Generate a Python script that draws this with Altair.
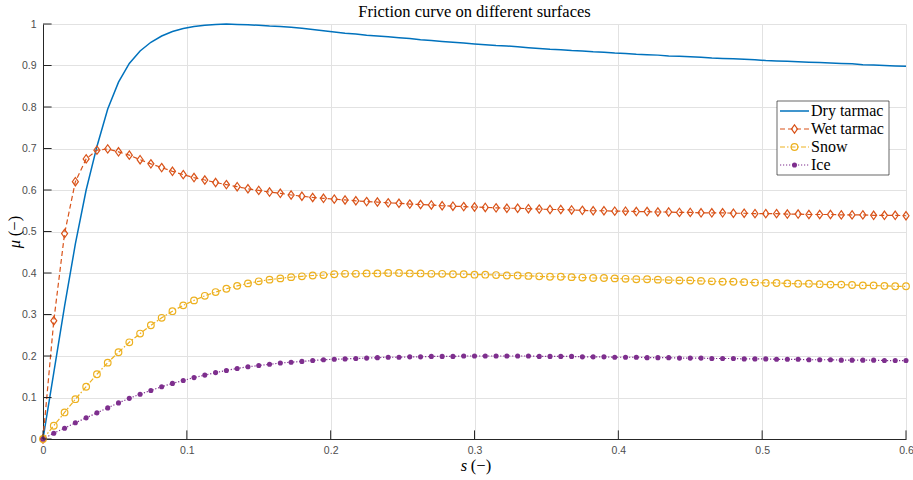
import altair as alt
import pandas as pd

# ---------------- data ----------------
s_vals = [0.0, 0.0075, 0.015, 0.0225, 0.03, 0.0375, 0.045, 0.0525, 0.06, 0.0675,
          0.075, 0.0825, 0.09, 0.0975, 0.105, 0.1125, 0.12, 0.1275, 0.135, 0.1425,
          0.15, 0.1575, 0.165, 0.1725, 0.18, 0.1875, 0.195, 0.2025, 0.21, 0.2175,
          0.225, 0.2325, 0.24, 0.2475, 0.255, 0.2625, 0.27, 0.2775, 0.285, 0.2925,
          0.3, 0.3075, 0.315, 0.3225, 0.33, 0.3375, 0.345, 0.3525, 0.36, 0.3675,
          0.375, 0.3825, 0.39, 0.3975, 0.405, 0.4125, 0.42, 0.4275, 0.435, 0.4425,
          0.45, 0.4575, 0.465, 0.4725, 0.48, 0.4875, 0.495, 0.5025, 0.51, 0.5175,
          0.525, 0.5325, 0.54, 0.5475, 0.555, 0.5625, 0.57, 0.5775, 0.585, 0.5925,
          0.6]

dry = [0.0, 0.16, 0.32, 0.47, 0.60, 0.705, 0.795, 0.86, 0.905, 0.935,
       0.956, 0.971, 0.982, 0.989, 0.994, 0.997, 0.999, 1.0, 0.999, 0.998,
       0.997, 0.995, 0.994, 0.992, 0.990, 0.987, 0.984, 0.981, 0.978, 0.976,
       0.973, 0.971, 0.969, 0.967, 0.965, 0.962, 0.960, 0.958, 0.956, 0.954,
       0.952, 0.950, 0.948, 0.947, 0.945, 0.943, 0.941, 0.939, 0.938, 0.936,
       0.935, 0.933, 0.932, 0.930, 0.929, 0.927, 0.926, 0.925, 0.923, 0.922,
       0.921, 0.920, 0.918, 0.917, 0.916, 0.915, 0.914, 0.912, 0.911, 0.910,
       0.909, 0.908, 0.907, 0.906, 0.905, 0.904, 0.902, 0.901, 0.900, 0.899,
       0.898]

wet = [0.0, 0.285, 0.495, 0.620, 0.675, 0.696, 0.699, 0.692, 0.684, 0.673,
       0.663, 0.654, 0.645, 0.637, 0.630, 0.624, 0.618, 0.613, 0.608, 0.603,
       0.599, 0.595, 0.592, 0.588, 0.585, 0.582, 0.580, 0.578, 0.576, 0.574,
       0.572, 0.571, 0.569, 0.568, 0.566, 0.565, 0.564, 0.562, 0.561, 0.560,
       0.559, 0.558, 0.557, 0.556, 0.556, 0.555, 0.554, 0.553, 0.553, 0.552,
       0.551, 0.550, 0.550, 0.549, 0.549, 0.548, 0.548, 0.547, 0.547, 0.546,
       0.546, 0.545, 0.545, 0.545, 0.544, 0.544, 0.543, 0.543, 0.543, 0.542,
       0.542, 0.541, 0.541, 0.541, 0.540, 0.540, 0.540, 0.539, 0.539, 0.539,
       0.538]

snow = [0.0, 0.032, 0.064, 0.096, 0.126, 0.156, 0.184, 0.209, 0.233, 0.254,
        0.274, 0.292, 0.308, 0.322, 0.334, 0.345, 0.354, 0.362, 0.369, 0.375,
        0.380, 0.384, 0.387, 0.390, 0.392, 0.394, 0.395, 0.397, 0.398, 0.398,
        0.399, 0.399, 0.400, 0.400, 0.399, 0.399, 0.398, 0.398, 0.397, 0.397,
        0.396, 0.396, 0.395, 0.394, 0.394, 0.393, 0.392, 0.391, 0.391, 0.390,
        0.389, 0.388, 0.388, 0.387, 0.386, 0.385, 0.385, 0.384, 0.383, 0.382,
        0.382, 0.381, 0.380, 0.379, 0.379, 0.378, 0.377, 0.376, 0.376, 0.375,
        0.374, 0.374, 0.373, 0.372, 0.372, 0.371, 0.370, 0.370, 0.369, 0.368,
        0.368]

ice = [0.0, 0.014, 0.026, 0.039, 0.051, 0.063, 0.075, 0.087, 0.098, 0.108,
       0.117, 0.126, 0.134, 0.141, 0.148, 0.154, 0.160, 0.165, 0.170, 0.174,
       0.177, 0.180, 0.183, 0.185, 0.187, 0.189, 0.191, 0.192, 0.193, 0.194,
       0.195, 0.196, 0.197, 0.197, 0.198, 0.198, 0.199, 0.199, 0.199, 0.200,
       0.200, 0.200, 0.200, 0.200, 0.200, 0.200, 0.199, 0.199, 0.199, 0.199,
       0.198, 0.198, 0.198, 0.197, 0.197, 0.197, 0.196, 0.196, 0.196, 0.195,
       0.195, 0.195, 0.194, 0.194, 0.194, 0.193, 0.193, 0.193, 0.192, 0.192,
       0.192, 0.191, 0.191, 0.191, 0.190, 0.190, 0.190, 0.190, 0.189, 0.189,
       0.189]

series_names = ["Dry tarmac", "Wet tarmac", "Snow", "Ice"]
colors = ["#0072BD", "#D95319", "#EDB120", "#7E2F8E"]
x_ticks = [0, 0.1, 0.2, 0.3, 0.4, 0.5, 0.6]
y_ticks = [0, 0.1, 0.2, 0.3, 0.4, 0.5, 0.6, 0.7, 0.8, 0.9, 1]
title_text = "Friction curve on different surfaces"

# ---------------- layout ----------------
W, H = 863, 415
TICK = 8.6
SERIF = "Liberation Serif"

xs = alt.Scale(domain=[0, 0.6], nice=False, zero=False)
ys = alt.Scale(domain=[0, 1], nice=False, zero=False)
x_axis = alt.Axis(values=x_ticks, format="~g", title=None, grid=True,
                  ticks=False, tickSize=0, labelPadding=6, labelFlush=False)
y_axis = alt.Axis(values=y_ticks, format="~g", title=None, grid=True,
                  ticks=False, tickSize=0, labelPadding=7, labelFlush=False)
X = alt.X("s:Q", scale=xs, axis=x_axis)
Y = alt.Y("mu:Q", scale=ys, axis=y_axis)


def frame(vals):
    return pd.DataFrame({"s": s_vals, "mu": vals})


one = pd.DataFrame({"k": [0]})

dash = {"Dry tarmac": [1, 0], "Wet tarmac": [5, 3], "Snow": [5, 2, 1.5, 2], "Ice": [1.2, 1.8]}
DIAMOND = "M0,-1L0.72,0L0,1L-0.72,0Z"

layers = []
# lines
for name, vals, col in zip(series_names, [dry, wet, snow, ice], colors):
    kw = dict(color=col, strokeWidth=1.5 if name == "Dry tarmac" else 1.2)
    if name != "Dry tarmac":
        kw["strokeDash"] = dash[name]
    layers.append(alt.Chart(frame(vals)).mark_line(**kw).encode(x=X, y=Y))

# markers
layers.append(alt.Chart(frame(wet)).mark_point(shape=DIAMOND, size=70, filled=False,
              color=colors[1], strokeWidth=1.2, opacity=1).encode(x=X, y=Y))
layers.append(alt.Chart(frame(snow)).mark_point(shape="circle", size=44, filled=False,
              color=colors[2], strokeWidth=1.2, opacity=1).encode(x=X, y=Y))
layers.append(alt.Chart(frame(ice)).mark_point(shape="circle", size=26, filled=True,
              color=colors[3], opacity=1).encode(x=X, y=Y))

# inward ticks
layers.append(alt.Chart(pd.DataFrame({"mu": y_ticks})).mark_rule(color="#262626", strokeWidth=1)
              .encode(y=Y, x=alt.value(0), x2=alt.value(TICK)))
layers.append(alt.Chart(pd.DataFrame({"s": x_ticks})).mark_rule(color="#262626", strokeWidth=1)
              .encode(x=X, y=alt.value(H), y2=alt.value(H - TICK)))

# title and axis titles
layers.append(alt.Chart(one).mark_text(text=title_text, font=SERIF, fontSize=16.5,
              color="#000000", align="center", baseline="middle")
              .encode(x=alt.value(W / 2), y=alt.value(-12)))
layers.append(alt.Chart(one).mark_text(text="s", font=SERIF, fontSize=16.5, fontStyle="italic",
              color="#000000", align="center", baseline="middle")
              .encode(x=alt.value(421), y=alt.value(442)))
layers.append(alt.Chart(one).mark_text(text="(−)", font=SERIF, fontSize=16.5,
              color="#000000", align="center", baseline="middle")
              .encode(x=alt.value(438), y=alt.value(442)))
layers.append(alt.Chart(one).mark_text(text="μ", font=SERIF, fontSize=16.5, fontStyle="italic",
              color="#000000", align="center", baseline="middle", angle=270)
              .encode(x=alt.value(-28), y=alt.value(220)))
layers.append(alt.Chart(one).mark_text(text="(−)", font=SERIF, fontSize=16.5,
              color="#000000", align="center", baseline="middle", angle=270)
              .encode(x=alt.value(-28), y=alt.value(202)))

# legend
LX0, LX1, LY0, LY1 = 777 - 43, 889 - 43, 101 - 24, 175 - 24
layers.append(alt.Chart(one).mark_rect(fill="white", stroke="#262626", strokeWidth=0.7)
              .encode(x=alt.value(LX0), x2=alt.value(LX1), y=alt.value(LY0), y2=alt.value(LY1)))
entry_y = [111 - 24, 129 - 24, 147 - 24, 165 - 24]
for i, (name, col) in enumerate(zip(series_names, colors)):
    ey = entry_y[i]
    kw = dict(color=col, strokeWidth=1.5 if name == "Dry tarmac" else 1.2)
    if name != "Dry tarmac":
        kw["strokeDash"] = dash[name]
    layers.append(alt.Chart(one).mark_rule(**kw)
                  .encode(x=alt.value(780 - 43), x2=alt.value(809 - 43), y=alt.value(ey)))
    if name == "Wet tarmac":
        layers.append(alt.Chart(one).mark_point(shape=DIAMOND, size=70, filled=False, color=col,
                      strokeWidth=1.2, opacity=1)
                      .encode(x=alt.value(794.5 - 43), y=alt.value(ey)))
    elif name == "Snow":
        layers.append(alt.Chart(one).mark_point(shape="circle", size=44, filled=False, color=col,
                      strokeWidth=1.2, opacity=1)
                      .encode(x=alt.value(794.5 - 43), y=alt.value(ey)))
    elif name == "Ice":
        layers.append(alt.Chart(one).mark_point(shape="circle", size=26, filled=True, color=col,
                      opacity=1)
                      .encode(x=alt.value(794.5 - 43), y=alt.value(ey)))
    layers.append(alt.Chart(one).mark_text(text=name, font=SERIF, fontSize=16, color="#000000",
                  align="left", baseline="middle")
                  .encode(x=alt.value(811 - 43), y=alt.value(ey)))

chart = alt.layer(*layers).properties(
    width=W, height=H,
    padding={"left": 43, "top": 24, "right": 7, "bottom": 41},
    autosize=alt.AutoSizeParams(type="none"),
    background="white",
).configure_view(stroke=None).configure_axis(
    gridColor="#e2e2e2", gridWidth=1, domainColor="#262626", domainWidth=1,
    labelFont="Liberation Sans", labelFontSize=10.5, labelColor="#4d4d4d",
)

chart.save("out.html", embed_options={"renderer": "svg", "actions": False})
